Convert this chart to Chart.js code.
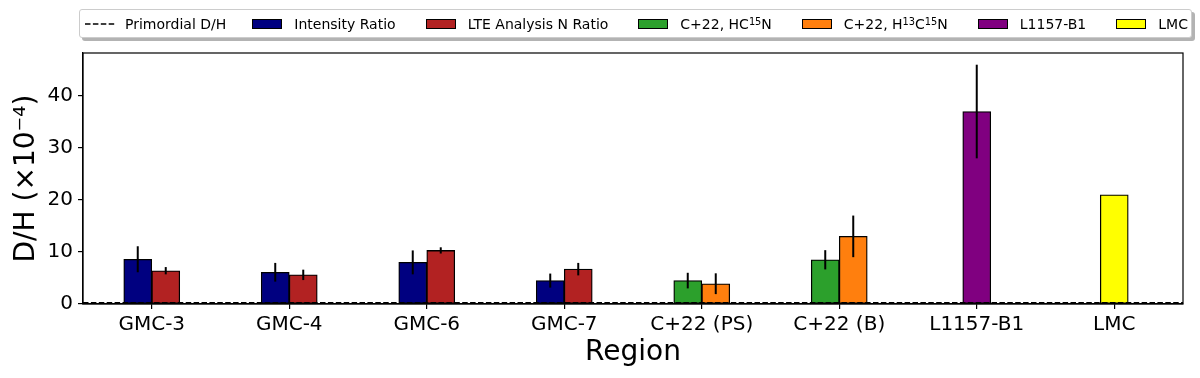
<!DOCTYPE html>
<html>
<head>
<meta charset="utf-8">
<script src="https://cdn.jsdelivr.net/npm/chart.js@4"></script>
<style>
  body { margin: 0; background: #fff; }
  #wrap { position: relative; width: 1200px; height: 378px; }
  #legend {
    position: absolute; left: 79px; top: 9px; height: 29px;
    box-sizing: border-box; padding: 0 3px 0 5px;
    border: 1px solid #cccccc; border-radius: 3px; background: #fff;
    box-shadow: 3px 3px 0 #b3b3b3;
    display: flex; align-items: center;
    font-family: 'DejaVu Sans', sans-serif; font-size: 14px; color: #000;
    white-space: nowrap;
  }
  .item { display: flex; align-items: center; margin-left: 30px; }
  .item:first-child { margin-left: 0; }
  .item:first-child .label { margin-left: 10px; }
  .item:nth-child(2) { margin-left: 26px; }
  .patch { width: 30px; height: 10px; box-sizing: border-box; border: 1px solid #000; }
  .label { margin-left: 12px; }
  .label sup { font-size: 70%; line-height: 0; vertical-align: 0.45em; }
</style>
</head>
<body>
<div id="wrap">
  <canvas id="chart"></canvas>
  <div id="legend"></div>
</div>
<script>
// categories and values (D/H in units of 1e-4)
const categories = ['GMC-3', 'GMC-4', 'GMC-6', 'GMC-7', 'C+22 (PS)', 'C+22 (B)', 'L1157-B1', 'LMC'];

const intensityRatio = [8.6, 6.1, 8.0, 4.5, null, null, null, null];
const intensityErr   = [2.5, 1.8, 2.3, 1.35, null, null, null, null];
const lteRatio       = [6.4, 5.6, 10.3, 6.7, null, null, null, null];
const lteErr         = [0.7, 1.0, 0.6, 1.2, null, null, null, null];
const hc15n          = [null, null, null, null, 4.5, 8.5, null, null];
const hc15nErr       = [null, null, null, null, 1.5, 1.85, null, null];
const h13c15n        = [null, null, null, null, 3.9, 13.0, null, null];
const h13c15nErr     = [null, null, null, null, 2.0, 4.0, null, null];
const l1157          = [null, null, null, null, null, null, 37.0, null];
const l1157Err       = [null, null, null, null, null, null, 9.0, null];
const lmc            = [null, null, null, null, null, null, null, 21.0];

const primordialDH = 0.26;
const yTicks = [0, 10, 20, 30, 40];
const yMax = 48.25;

const FONT = 'DejaVu Sans';
Chart.defaults.color = '#000';
Chart.defaults.font.family = FONT;

function barSet(label, data, errors, color) {
    return {
        label: label,
        data: data,
        errors: errors,
        backgroundColor: color,
        borderColor: '#000',
        borderWidth: 1.3,
        borderSkipped: false,
        barThickness: 28,
        skipNull: true
    };
}

const datasets = [
    barSet('Intensity Ratio', intensityRatio, intensityErr, '#000080'),
    barSet('LTE Analysis N Ratio', lteRatio, lteErr, '#b22222'),
    barSet('C+22, HC¹⁵N', hc15n, hc15nErr, '#2ca02c'),
    barSet('C+22, H¹³C¹⁵N', h13c15n, h13c15nErr, '#ff7f0e'),
    barSet('L1157-B1', l1157, l1157Err, '#800080'),
    barSet('LMC', lmc, null, '#ffff00')
];

// error bars, primordial line and the top/right spines
const extras = {
    id: 'extras',
    afterDatasetsDraw(chart) {
        const ctx = chart.ctx;
        const y = chart.scales.y;
        const area = chart.chartArea;
        ctx.save();
        ctx.strokeStyle = '#000';
        ctx.lineWidth = 2;
        chart.data.datasets.forEach((ds, di) => {
            if (!ds.errors) return;
            const meta = chart.getDatasetMeta(di);
            ds.data.forEach((v, i) => {
                const e = ds.errors[i];
                if (v == null || e == null) return;
                const x = meta.data[i].x;
                ctx.beginPath();
                ctx.moveTo(x, y.getPixelForValue(v + e));
                ctx.lineTo(x, y.getPixelForValue(v - e));
                ctx.stroke();
            });
        });

        const py = y.getPixelForValue(primordialDH);
        ctx.lineWidth = 1.5;
        ctx.setLineDash([5.5, 2.4]);
        ctx.beginPath();
        ctx.moveTo(area.left, py);
        ctx.lineTo(area.right, py);
        ctx.stroke();

        ctx.setLineDash([]);
        ctx.lineWidth = 1.2;
        ctx.strokeRect(area.left, area.top, area.right - area.left, area.bottom - area.top);
        ctx.restore();
    }
};

new Chart(document.getElementById('chart'), {
    type: 'bar',
    data: { labels: categories, datasets: datasets },
    plugins: [extras],
    options: {
        responsive: true,
        maintainAspectRatio: false,
        animation: false,
        layout: { padding: { left: 0, top: 53, right: 17, bottom: 0 } },
        plugins: { legend: { display: false }, tooltip: { enabled: false } },
        scales: {
            x: {
                offset: true,
                grid: { offset: false, drawOnChartArea: false, tickLength: 5, color: '#000', lineWidth: 1.2 },
                border: { color: '#000', width: 1.2 },
                ticks: { font: { size: 20 }, padding: 4, maxRotation: 0, autoSkip: false },
                title: { display: true, text: 'Region', font: { size: 28, lineHeight: 1 }, padding: { top: 0, bottom: 11 } },
                afterFit: s => { s.height = 74; }
            },
            y: {
                min: 0,
                max: yMax,
                grid: { drawOnChartArea: false, tickLength: 5, color: '#000', lineWidth: 1.2 },
                border: { color: '#000', width: 1.2 },
                ticks: { font: { size: 20 }, padding: 5 },
                afterBuildTicks: s => { s.ticks = yTicks.map(v => ({ value: v })); },
                title: { display: true, text: 'D/H (×10⁻⁴)', font: { size: 28, lineHeight: 1 }, padding: { top: 13, bottom: 0 } },
                afterFit: s => { s.width = 83; }
            }
        }
    }
});

// legend built from the datasets, with the dashed primordial line first;
// unicode superscript digits are shown as <sup> runs
const supMap = { '¹': '1', '³': '3', '⁵': '5' };
function legendText(s) {
    return s.replace(/[¹³⁵]+/g, m => '<sup>' + m.split('').map(c => supMap[c]).join('') + '</sup>');
}
const legend = document.getElementById('legend');
let html = '<div class="item"><svg width="30" height="10"><line x1="0" y1="5" x2="30" y2="5" stroke="#000" stroke-width="1.5" stroke-dasharray="5.5 2.4"/></svg><span class="label">Primordial D/H</span></div>';
datasets.forEach(ds => {
    html += '<div class="item"><span class="patch" style="background:' + ds.backgroundColor + '"></span><span class="label">' + legendText(ds.label) + '</span></div>';
});
legend.innerHTML = html;
</script>
</body>
</html>
